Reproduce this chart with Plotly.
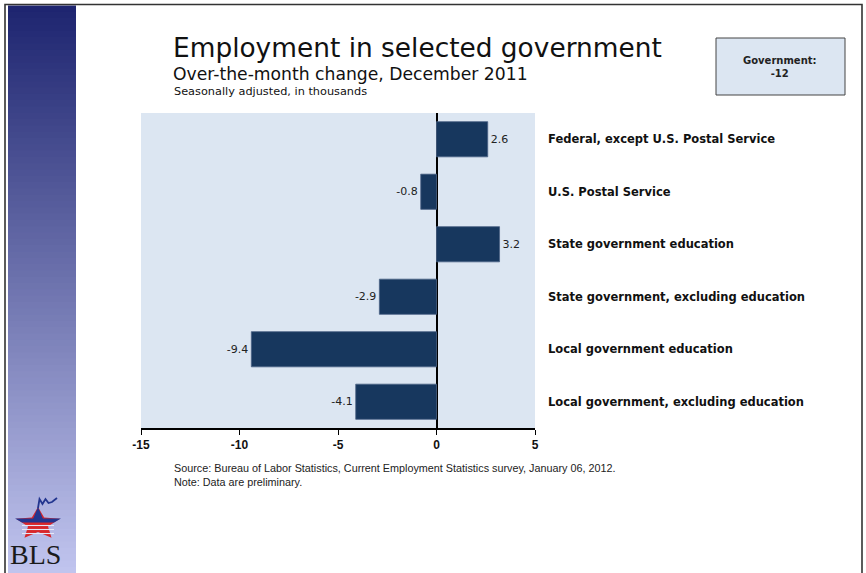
import math
import plotly.graph_objects as go

categories = [
    "Federal, except U.S. Postal Service",
    "U.S. Postal Service",
    "State government education",
    "State government, excluding education",
    "Local government education",
    "Local government, excluding education",
]
values = [2.6, -0.8, 3.2, -2.9, -9.4, -4.1]
x_tickvals = [-15, -10, -5, 0, 5]
x_ticktext = ["-15", "-10", "-5", "0", "5"]
total_label = "Government:<br>-12"

W, H = 866, 573
L, R, T, B = 141, 535, 113, 428


def px(x):
    return (x - L) / (R - L)


def py(y):
    return (B - y) / (B - T)


def poly(points, close=True):
    s = "M " + " L ".join(f"{px(a):.5f},{py(b):.5f}" for a, b in points)
    return s + (" Z" if close else "")


fig = go.Figure()
fig.add_trace(go.Bar(
    y=categories,
    x=values,
    orientation="h",
    marker=dict(color="#17375e", line=dict(color="#4a6285", width=0.8)),
    width=0.67,
    text=[f"{v:.1f}" for v in values],
    textposition="outside",
    textfont=dict(family="DejaVu Sans", size=11, color="#222222"),
    cliponaxis=False,
    hoverinfo="skip",
))

shapes = []
# outer frame
shapes.append(dict(type="rect", xref="paper", yref="paper",
                   x0=px(5), x1=px(862), y0=py(4.5), y1=py(580),
                   line=dict(color="#333333", width=1.6), fillcolor="rgba(0,0,0,0)", layer="above"))
# sidebar gradient (decorative)
n = 90
top_c = (30, 37, 112)
bot_c = (192, 196, 238)
y_top, y_bot = 5.5, 573
for i in range(n):
    t = i / (n - 1)
    c = tuple(int(round(top_c[k] + (bot_c[k] - top_c[k]) * t)) for k in range(3))
    y0 = y_top + (y_bot - y_top) * i / n
    y1 = y_top + (y_bot - y_top) * (i + 1) / n
    shapes.append(dict(type="rect", xref="paper", yref="paper",
                       x0=px(8), x1=px(76), y0=py(y0), y1=py(y1 + 1.2),
                       line=dict(width=0), fillcolor=f"rgb{c}", layer="below"))

# BLS logo star (decorative)
cx, cy, rox, roy, rix, riy = 38, 524, 23, 17, 10.5, 8
pts = []
for k in range(10):
    ang = -math.pi / 2 + k * math.pi / 5
    if k % 2 == 0:
        pts.append((cx + rox * math.cos(ang), cy + roy * math.sin(ang)))
    else:
        pts.append((cx + rix * math.cos(ang), cy + riy * math.sin(ang)))
shapes.append(dict(type="path", xref="paper", yref="paper", path=poly(pts),
                   fillcolor="#d8262b", line=dict(width=0), layer="above"))
# blue upper part of the star
shapes.append(dict(type="path", xref="paper", yref="paper",
                   path=poly([(15, 518.5), (61, 518.5), (54, 522.5), (22, 522.5)]),
                   fillcolor="#22358f", line=dict(width=0), layer="above"))
shapes.append(dict(type="path", xref="paper", yref="paper",
                   path=poly([(33, 519), (43, 519), (38, 507)]),
                   fillcolor="#22358f", line=dict(width=0), layer="above"))
for yy in [525.5, 529.5, 533.5]:
    shapes.append(dict(type="line", xref="paper", yref="paper",
                       x0=px(22), x1=px(54), y0=py(yy), y1=py(yy),
                       line=dict(color="#e6e7f7", width=1.1), layer="above"))
# squiggle chart line
shapes.append(dict(type="path", xref="paper", yref="paper",
                   path=poly([(38, 508), (39.5, 499), (42.5, 504), (45.5, 499), (48.5, 503), (52, 502), (57, 498)], close=False),
                   line=dict(color="#22358f", width=1.8), layer="above"))

# Government box
shapes.append(dict(type="rect", xref="paper", yref="paper",
                   x0=px(716), x1=px(845), y0=py(38), y1=py(95),
                   line=dict(color="#444444", width=1), fillcolor="#dce6f2"))

annotations = [
    dict(text="Employment in selected government", x=px(171), y=py(65), xref="paper", yref="paper",
         xanchor="left", yanchor="bottom", showarrow=False,
         font=dict(family="DejaVu Sans", size=26.4, color="#111111")),
    dict(text="Over-the-month change, December 2011", x=px(171), y=py(86), xref="paper", yref="paper",
         xanchor="left", yanchor="bottom", showarrow=False,
         font=dict(family="DejaVu Sans", size=17.2, color="#111111")),
    dict(text="Seasonally adjusted, in thousands", x=px(172), y=py(100), xref="paper", yref="paper",
         xanchor="left", yanchor="bottom", showarrow=False,
         font=dict(family="DejaVu Sans", size=11.3, color="#111111")),
    dict(text=total_label, x=px(780), y=py(66.5), xref="paper", yref="paper",
         xanchor="center", yanchor="middle", showarrow=False, align="center",
         font=dict(family="DejaVu Sans", size=10, color="#222222", weight="bold")),
    dict(text="Source: Bureau of Labor Statistics, Current Employment Statistics survey, January 06, 2012.<br>Note: Data are preliminary.",
         x=px(172), y=py(460), xref="paper", yref="paper",
         xanchor="left", yanchor="top", showarrow=False, align="left",
         font=dict(family="Liberation Sans", size=10.8, color="#222222")),
    dict(text="BLS", x=px(36), y=py(554), xref="paper", yref="paper",
         xanchor="center", yanchor="middle", showarrow=False,
         font=dict(family="Liberation Serif", size=28, color="#1a1a1a")),
]

fig.update_layout(
    width=W, height=H,
    margin=dict(l=L, r=W - R, t=T, b=H - B, pad=0),
    paper_bgcolor="white",
    plot_bgcolor="#dce6f2",
    showlegend=False,
    shapes=shapes,
    annotations=annotations,
    xaxis=dict(
        range=[-15, 5],
        tickvals=x_tickvals, ticktext=x_ticktext,
        ticks="outside", ticklen=5, tickcolor="black", tickwidth=1,
        showgrid=False,
        zeroline=True, zerolinecolor="black", zerolinewidth=1.5,
        showline=True, linecolor="black", linewidth=1.5,
        tickfont=dict(family="Liberation Sans", size=12, color="#111111", weight="bold"),
        fixedrange=True,
    ),
    yaxis=dict(
        autorange="reversed",
        side="right",
        showgrid=False, zeroline=False, showline=False,
        ticks="", ticklabelstandoff=12,
        tickfont=dict(family="DejaVu Sans", size=11.5, color="#111111", weight="bold"),
        fixedrange=True,
    ),
)

fig.write_html("out.html", config={"displayModeBar": False},
               post_script="document.body.style.margin='0';document.body.style.overflow='hidden';")
